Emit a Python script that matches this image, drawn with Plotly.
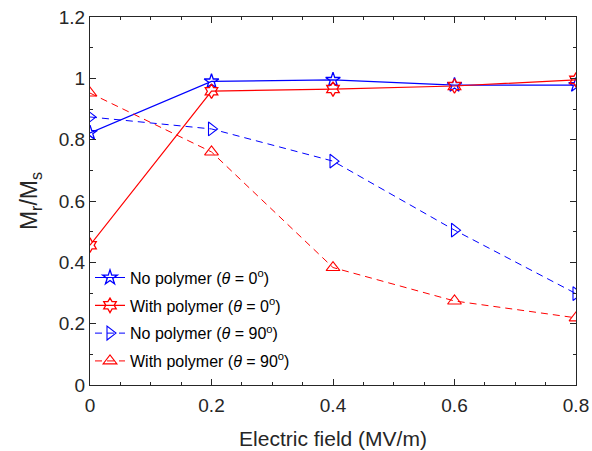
import plotly.graph_objects as go

field = [0, 0.2, 0.4, 0.6, 0.8]
no_poly_0 = [0.822, 0.99, 0.995, 0.978, 0.978]
with_poly_0 = [0.456, 0.958, 0.965, 0.975, 0.995]
no_poly_90 = [0.874, 0.835, 0.73, 0.505, 0.298]
with_poly_90 = [0.952, 0.76, 0.383, 0.274, 0.219]

names = [
    "No polymer (<i>θ</i> = 0<sup>o</sup>)",
    "With polymer (<i>θ</i> = 0<sup>o</sup>)",
    "No polymer (<i>θ</i> = 90<sup>o</sup>)",
    "With polymer (<i>θ</i> = 90<sup>o</sup>)",
]

BLUE = "#0000ff"
RED = "#ff0000"
FONT = "Liberation Sans, Arial, sans-serif"

fig = go.Figure()
fig.add_trace(go.Scatter(x=field, y=no_poly_0, name=names[0], mode="lines+markers", legendgroup="a",
                         line=dict(color=BLUE, width=1.2),
                         marker=dict(symbol="star-open", size=11, color=BLUE, line=dict(width=1.3))))
fig.add_trace(go.Scatter(x=field, y=with_poly_0, name=names[1], mode="lines+markers", legendgroup="b",
                         line=dict(color=RED, width=1.2),
                         marker=dict(symbol="hexagram-open", size=11, color=RED, line=dict(width=1.3))))
fig.add_trace(go.Scatter(x=field, y=no_poly_90, name=names[2], mode="lines+markers", legendgroup="c",
                         line=dict(color=BLUE, width=1, dash="7px,5px"),
                         marker=dict(symbol="triangle-right-open", size=12, color=BLUE, line=dict(width=1.1))))
fig.add_trace(go.Scatter(x=field, y=with_poly_90, name=names[3], mode="lines+markers", legendgroup="d",
                         line=dict(color=RED, width=1, dash="7px,5px"),
                         marker=dict(symbol="triangle-up-open", size=12, color=RED, line=dict(width=1.1))))

axis_common = dict(
    showgrid=False, zeroline=False, showline=True, linecolor="#262626", linewidth=1,
    mirror="allticks", ticks="inside", ticklen=6, tickcolor="#262626", automargin=False,
    tickfont=dict(family=FONT, size=19, color="#262626"),
)

fig.update_layout(
    width=592, height=451,
    margin=dict(l=90, r=16, t=17, b=66),
    plot_bgcolor="white", paper_bgcolor="white",
    font=dict(family=FONT, color="#262626"),
    xaxis=dict(range=[0, 0.8], tickvals=[0, 0.2, 0.4, 0.6, 0.8],
               ticktext=["0", "0.2", "0.4", "0.6", "0.8"],
               ticklabelstandoff=3,
               minor=dict(dtick=0.05, ticks="inside", ticklen=3, tickcolor="#262626"),
               title=dict(text="Electric field (MV/m)", font=dict(family=FONT, size=21, color="#262626"), standoff=16),
               **axis_common),
    yaxis=dict(range=[0, 1.2], tickvals=[0, 0.2, 0.4, 0.6, 0.8, 1.0, 1.2],
               ticktext=["0", "0.2", "0.4", "0.6", "0.8", "1", "1.2"],
               minor=dict(dtick=0.1, ticks="inside", ticklen=3, tickcolor="#262626"),
               title=dict(text="M<sub>r</sub>/M<sub>s</sub>", font=dict(family=FONT, size=23, color="#262626"), standoff=14),
               **axis_common),
    legend=dict(x=0.0, y=0.338, xanchor="left", yanchor="top",
                bgcolor="rgba(0,0,0,0)", borderwidth=0,
                font=dict(family=FONT, size=16, color="black"),
                tracegroupgap=4, itemwidth=30),
    showlegend=True,
)

fig.write_html("out.html")
